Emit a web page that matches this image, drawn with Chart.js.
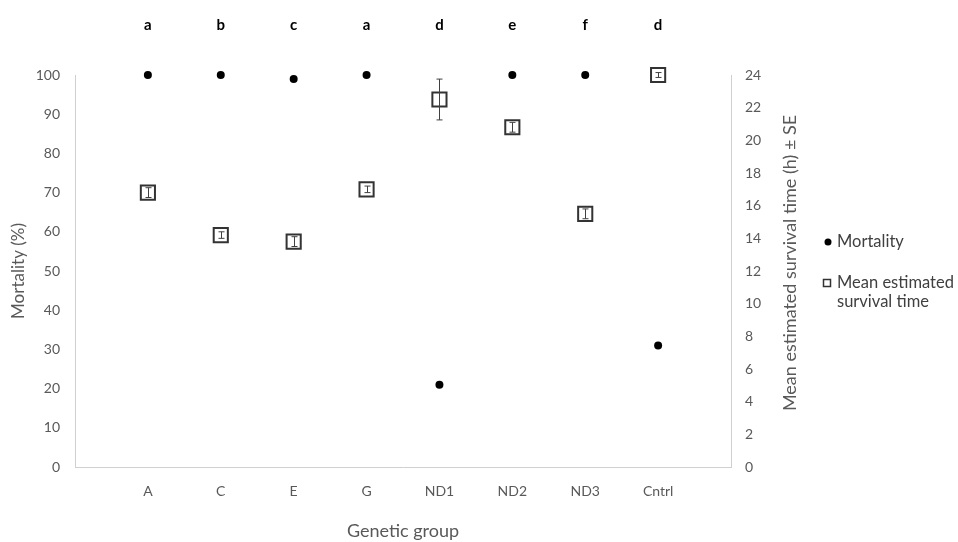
<!DOCTYPE html>
<html>
<head>
<meta charset="utf-8">
<script src="https://cdn.jsdelivr.net/npm/chart.js@4.4.1/dist/chart.umd.min.js"></script>
<style>
  html, body { margin: 0; padding: 0; background: #ffffff; }
  #wrap { width: 958px; height: 542px; position: relative; }
</style>
</head>
<body>
<div id="wrap"><canvas id="c" width="958" height="542"></canvas></div>
<script>
// ---- data ----
const categories = ['A', 'C', 'E', 'G', 'ND1', 'ND2', 'ND3', 'Cntrl'];
const sigLetters = ['a', 'b', 'c', 'a', 'd', 'e', 'f', 'd'];
const mortality = [100, 100, 99, 100, 21, 100, 100, 31];
const survival = [16.8, 14.2, 13.8, 17.0, 22.5, 20.8, 15.5, 24.0];
const survivalSE = [0.3, 0.2, 0.3, 0.2, 1.25, 0.3, 0.3, 0.15];
const leftTicks = [0, 10, 20, 30, 40, 50, 60, 70, 80, 90, 100];
const rightTicks = [0, 2, 4, 6, 8, 10, 12, 14, 16, 18, 20, 22, 24];
const rightTitle = 'Mean estimated survival time (h) ± SE';

const FONT = 'Lato, "Open Sans", sans-serif';
const GREY = '#595959';
const AXIS = '#d0d0d0';

const mortPts = mortality.map((v, i) => ({ x: i + 1, y: v }));
const survPts = survival.map((v, i) => ({ x: i + 1, y: v }));

const extras = {
  id: 'extras',
  afterDatasetsDraw(chart) {
    const ctx = chart.ctx;
    const xs = chart.scales.x, y2 = chart.scales.y2;
    ctx.save();
    ctx.strokeStyle = '#404040';
    ctx.lineWidth = 1;
    survival.forEach((v, i) => {
      const px = Math.round(xs.getPixelForValue(i + 1)) + 0.5;
      const top = y2.getPixelForValue(v + survivalSE[i]);
      const bot = y2.getPixelForValue(v - survivalSE[i]);
      const cap = 3;
      ctx.beginPath();
      ctx.moveTo(px, top); ctx.lineTo(px, bot);
      ctx.moveTo(px - cap, top); ctx.lineTo(px + cap, top);
      ctx.moveTo(px - cap, bot); ctx.lineTo(px + cap, bot);
      ctx.stroke();
    });
    ctx.restore();
  },
  afterDraw(chart) {
    const ctx = chart.ctx;
    const xs = chart.scales.x;
    const area = chart.chartArea;
    ctx.save();
    // significance letters
    ctx.fillStyle = '#000000';
    ctx.font = 'bold 15px ' + FONT;
    ctx.textAlign = 'center';
    ctx.textBaseline = 'middle';
    sigLetters.forEach((l, i) => {
      ctx.fillText(l, xs.getPixelForValue(i + 1), 25);
    });
    // right axis title (reads bottom to top)
    ctx.save();
    ctx.translate(790, (area.top + area.bottom) / 2 - 8);
    ctx.rotate(-Math.PI / 2);
    ctx.font = '18px ' + FONT;
    ctx.fillStyle = GREY;
    ctx.fillText(rightTitle, 0, 0);
    ctx.restore();
    // legend
    ctx.font = '16.5px ' + FONT;
    ctx.textAlign = 'left';
    ctx.beginPath();
    ctx.arc(828, 242, 3.5, 0, Math.PI * 2);
    ctx.fillStyle = '#000000';
    ctx.fill();
    ctx.fillStyle = '#404040';
    ctx.fillText('Mortality', 837, 242);
    ctx.strokeStyle = '#333333';
    ctx.lineWidth = 1.5;
    ctx.strokeRect(823.5, 279.5, 7, 7);
    ctx.fillText('Mean estimated', 837, 283);
    ctx.fillText('survival time', 837, 302);
    ctx.restore();
  }
};

new Chart(document.getElementById('c'), {
  type: 'scatter',
  data: {
    datasets: [
      {
        label: 'Mortality',
        data: mortPts,
        yAxisID: 'y',
        clip: false,
        pointStyle: 'circle',
        pointRadius: 4,
        backgroundColor: '#000000',
        borderColor: '#000000',
        borderWidth: 0
      },
      {
        label: 'Mean estimated survival time',
        data: survPts,
        yAxisID: 'y2',
        clip: false,
        pointStyle: 'rect',
        pointRadius: 10,
        backgroundColor: '#ffffff',
        borderColor: '#333333',
        borderWidth: 2
      }
    ]
  },
  options: {
    responsive: false,
    animation: false,
    layout: { padding: { top: 75, right: 147, left: 0, bottom: 0 } },
    plugins: { legend: { display: false }, tooltip: { enabled: false } },
    scales: {
      x: {
        type: 'linear',
        min: 0, max: 9,
        afterBuildTicks: (s) => { s.ticks = categories.map((c, i) => ({ value: i + 1 })); },
        afterFit: (s) => { s.height = 75; },
        grid: { display: false, drawTicks: false },
        border: { display: true, color: AXIS, width: 1 },
        ticks: {
          autoSkip: false, maxRotation: 0, padding: 16,
          color: GREY, font: { family: FONT, size: 14 },
          callback: (v) => categories[v - 1] || ''
        },
        title: { display: true, text: 'Genetic group', color: GREY, font: { family: FONT, size: 18 }, padding: { top: 0, bottom: 0 } }
      },
      y: {
        position: 'left',
        min: 0, max: 100,
        afterBuildTicks: (s) => { s.ticks = leftTicks.map(v => ({ value: v })); },
        afterFit: (s) => { s.width = 75; },
        grid: { display: false, drawTicks: false },
        border: { display: true, color: AXIS, width: 1 },
        ticks: { padding: 15, color: GREY, font: { family: FONT, size: 14 } },
        title: { display: true, text: 'Mortality (%)', color: GREY, font: { family: FONT, size: 17 }, padding: { top: 8, bottom: 0 } }
      },
      y2: {
        position: 'right',
        min: 0, max: 24,
        afterBuildTicks: (s) => { s.ticks = rightTicks.map(v => ({ value: v })); },
        afterFit: (s) => { s.width = 80; },
        grid: { display: false, drawTicks: false },
        border: { display: true, color: AXIS, width: 1 },
        ticks: { padding: 14, color: GREY, font: { family: FONT, size: 14 } },
        title: { display: false }
      }
    }
  },
  plugins: [extras]
});
</script>
</body>
</html>
